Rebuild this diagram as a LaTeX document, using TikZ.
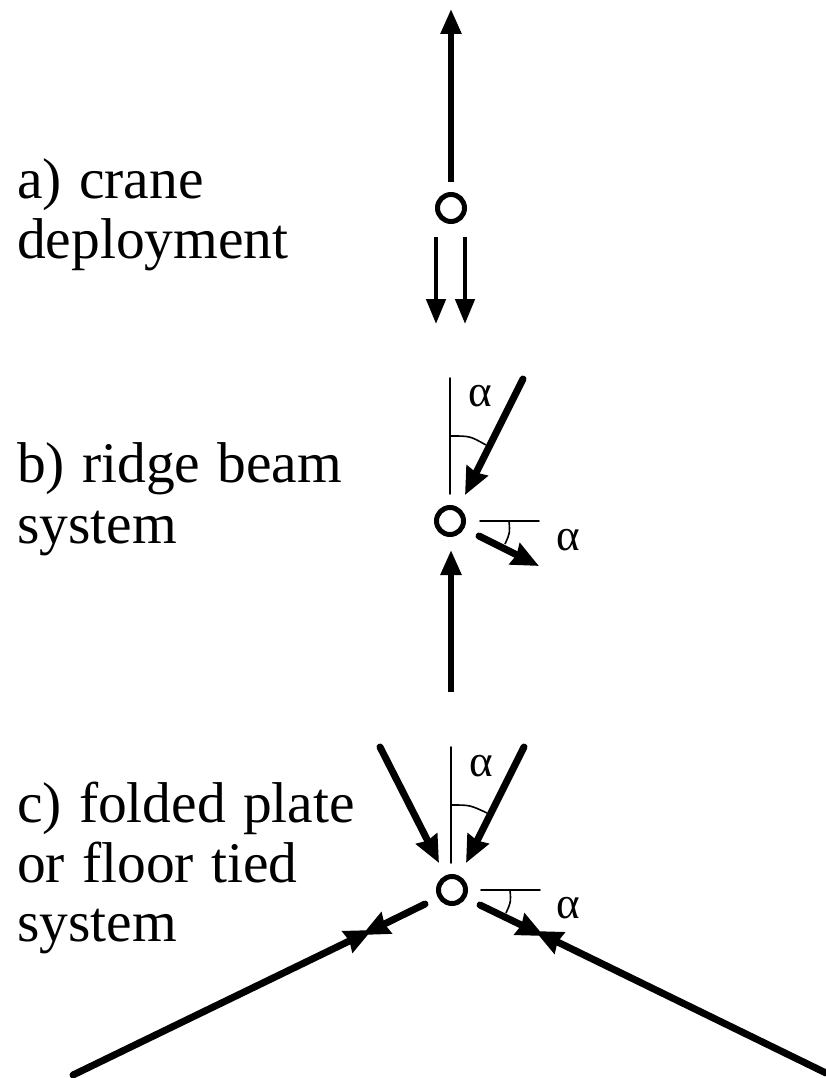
\documentclass[tikz,border=0pt]{standalone}
\usepackage{fontspec}
\setmainfont{Liberation Serif}
\newfontfamily\capfont[WordSpace=1.2]{Liberation Serif}
\usetikzlibrary{arrows.meta}
\tikzset{
  hinge/.style={circle,draw=black,line width=5pt,minimum size=27pt,inner sep=0pt,outer sep=0pt,fill=white},
  caption/.style={anchor=base west,inner sep=0pt,font=\capfont\fontsize{57.5}{58}\selectfont},
  anglelabel/.style={inner sep=0pt,font=\fontsize{45}{45}\selectfont},
  thinline/.style={line width=1.8pt,line cap=round},
  anglearc/.style={line width=1.6pt},
  force/.style={line width=5.6pt,-{Triangle[length=25pt,width=20pt]}},
  lightforce/.style={line width=4.6pt,-{Triangle[length=25pt,width=19pt]}},
  heavyforce/.style={line width=7pt,line cap=round,-{Stealth[length=27pt,width=23pt,inset=2pt]}}
}
\begin{document}
\begin{tikzpicture}[x=1pt,y=-1pt]
\useasboundingbox (0,0) rectangle (826,1078);
% captions
\node[caption] (capa1) at (17,199) {a) crane};
\node[caption] (capa2) at (17,258) {deployment};
\node[caption] (capb1) at (17,482) {b) ridge beam};
\node[caption] (capb2) at (17,543) {system};
\node[caption] (capc1) at (17,822) {c) folded plate};
\node[caption] (capc2) at (17,882) {or floor tied};
\node[caption] (capc3) at (17,941) {system};
% a
\node[hinge] (ha) at (451,208) {};
\coordinate (aup0) at (451,182); \coordinate (aup1) at (451,9);
\coordinate (ad1s) at (436,237); \coordinate (ad1e) at (436,324);
\coordinate (ad2s) at (465,237); \coordinate (ad2e) at (465,324);
\draw[force] (aup0) -- (aup1);
\draw[lightforce] (ad1s) -- (ad1e);
\draw[lightforce] (ad2s) -- (ad2e);
% b
\node[hinge] (hb) at (450,521) {};
\coordinate (bv0) at (450,378); \coordinate (bv1) at (450,494);
\coordinate (bf0) at (523,379); \coordinate (bf1) at (465,495);
\coordinate (bh0) at (480,521); \coordinate (bh1) at (539,521);
\coordinate (bg0) at (479,536); \coordinate (bg1) at (539,566);
\coordinate (bu0) at (451,692); \coordinate (bu1) at (451,550);
\coordinate (ba0) at (451,436); \coordinate (bac) at (470,436); \coordinate (ba1) at (486,445);
\coordinate (bb0) at (509,521); \coordinate (bbc) at (510,533); \coordinate (bb1) at (505,544);
\draw[thinline] (bv0) -- (bv1);
\draw[thinline] (bh0) -- (bh1);
\draw[anglearc] (ba0) .. controls (bac) .. (ba1);
\draw[anglearc] (bb0) .. controls (bbc) .. (bb1);
\draw[heavyforce] (bf0) -- (bf1);
\draw[heavyforce] (bg0) -- (bg1);
\draw[force] (bu0) -- (bu1);
\node[anglelabel] (alb1) at (480,396) {α};
\node[anglelabel] (alb2) at (568,540) {α};
% c
\node[hinge] (hc) at (452,890) {};
\coordinate (cv0) at (451,747); \coordinate (cv1) at (451,863);
\coordinate (cl0) at (380,747); \coordinate (cl1) at (439,863);
\coordinate (cr0) at (524,747); \coordinate (cr1) at (466,863);
\coordinate (ch0) at (481,890); \coordinate (ch1) at (540,890);
\coordinate (ca0) at (451,805); \coordinate (cac) at (470,805); \coordinate (ca1) at (487,813);
\coordinate (cb0) at (510,890); \coordinate (cbc) at (511,902); \coordinate (cb1) at (506,913);
\coordinate (dl0) at (425,904); \coordinate (dlm) at (362,935); \coordinate (dl1) at (73,1075);
\coordinate (dlt) at (372,930);
\coordinate (dr0) at (480,905); \coordinate (drm) at (544,936); \coordinate (dr1) at (826,1073);
\coordinate (drt) at (535,931);
\draw[thinline] (cv0) -- (cv1);
\draw[thinline] (ch0) -- (ch1);
\draw[anglearc] (ca0) .. controls (cac) .. (ca1);
\draw[anglearc] (cb0) .. controls (cbc) .. (cb1);
\draw[heavyforce] (cl0) -- (cl1);
\draw[heavyforce] (cr0) -- (cr1);
\draw[heavyforce] (dl0) -- (dlm);
\draw[heavyforce] (dr0) -- (drm);
\draw[heavyforce] (dl1) -- (dlt);
\draw[heavyforce] (dr1) -- (drt);
\node[anglelabel] (alc1) at (481,766) {α};
\node[anglelabel] (alc2) at (568,908) {α};
\end{tikzpicture}
\end{document}
